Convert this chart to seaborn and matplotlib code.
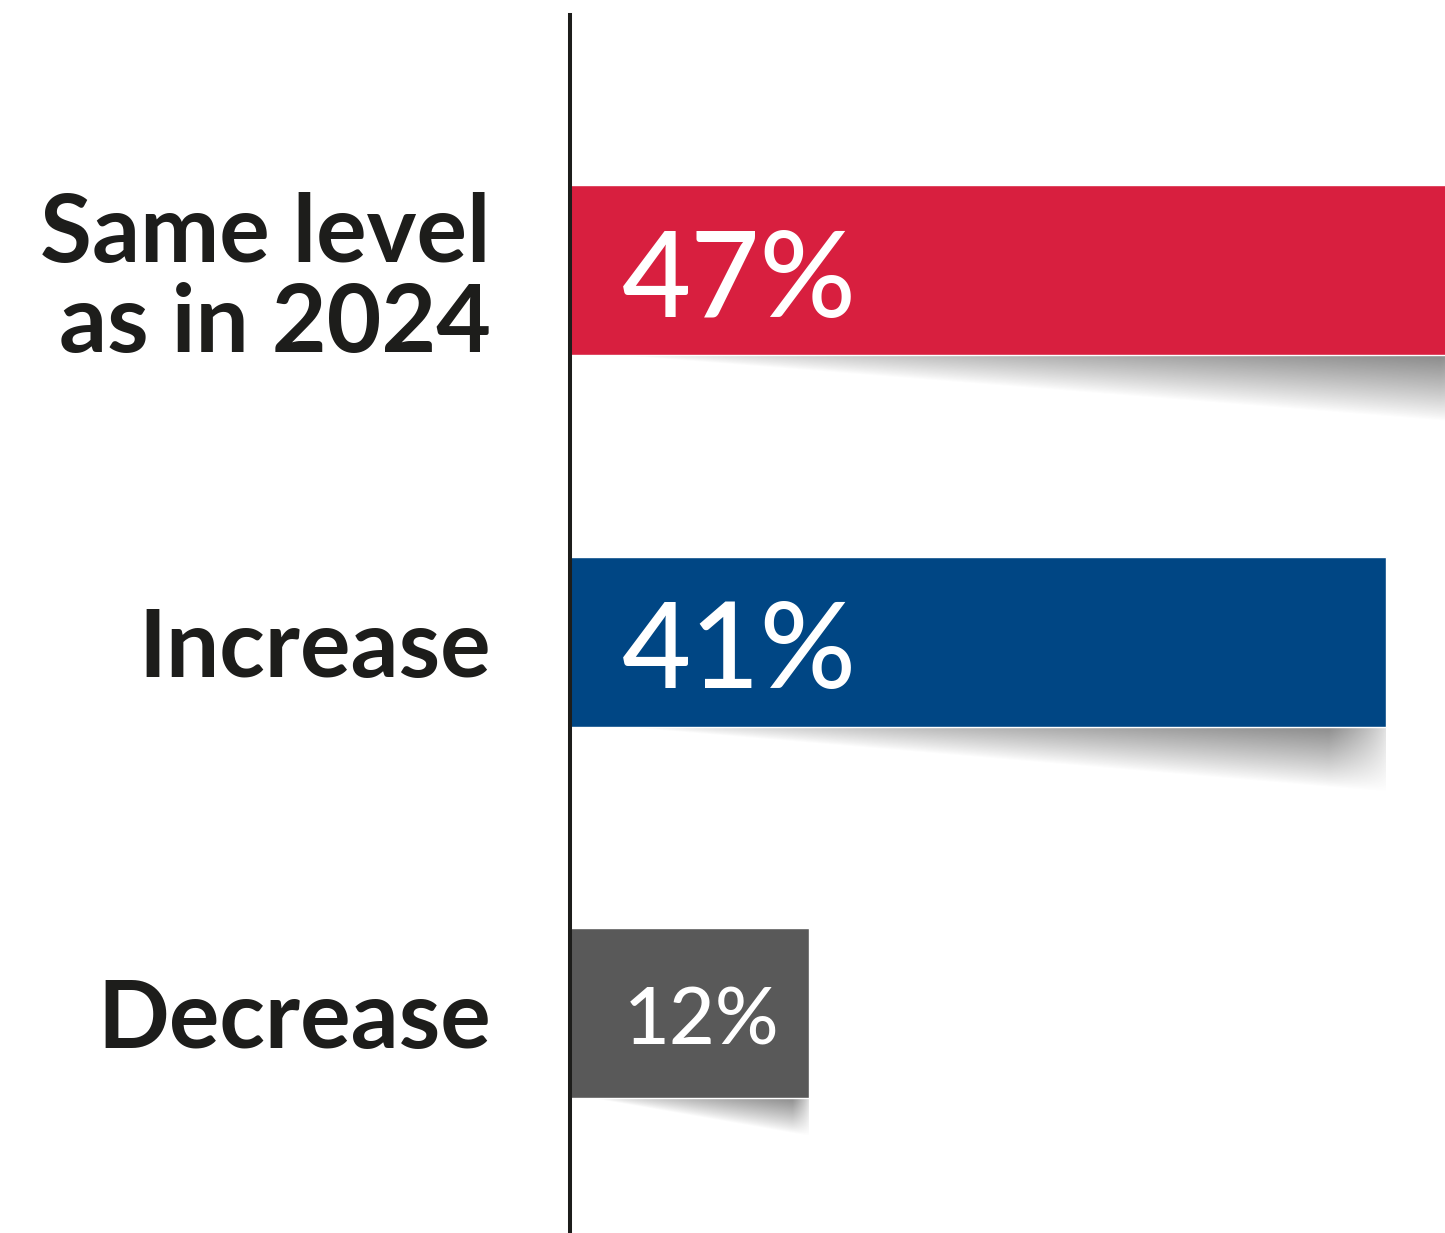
import numpy as np
import pandas as pd
import matplotlib
matplotlib.use("Agg")
import matplotlib.pyplot as plt
import seaborn as sns

categories = ["Same level\nas in 2024", "Increase", "Decrease"]
values = [47, 41, 12]
value_labels = ["47%", "41%", "12%"]
colors = ["#D81F3F", "#004684", "#595959"]
label_sizes = [86, 86, 57]

sns.set_theme(style="white")
plt.rcParams['font.family'] = ['Lato', 'DejaVu Sans']

df = pd.DataFrame({"cat": categories, "val": values})

fig = plt.figure(figsize=(14.45, 12.33), dpi=100)
ax = fig.add_axes([570/1445, 0, 875/1445, 1 - 15/1233])

bw = 170/371.5
sns.barplot(data=df, x="val", y="cat", hue="cat", palette=colors, orient="h",
            width=bw, dodge=False, legend=False, ax=ax, saturation=1, zorder=3)

# soft wedge shadows under bars
patches = sorted(ax.patches, key=lambda p: p.get_y())
nx, ny = 500, 120
for p in patches:
    x0 = p.get_x()
    x1 = p.get_x() + p.get_width()
    yb = p.get_y() + p.get_height()
    depth = 0.07 + 0.0026 * p.get_width()
    u = np.linspace(0, 1, nx)[None, :]
    t = np.linspace(0, 1, ny)[:, None]
    d = np.clip((u - 0.02) / 0.98, 1e-4, 1)
    inside = np.clip(1 - t / d, 0, 1)
    horiz = np.clip(u, 0, 1) ** 0.6
    rightfade = np.clip((1 - u) / 0.07, 0, 1) ** 0.8
    alpha = 0.85 * inside ** 0.9 * horiz * (0.25 + 0.75 * rightfade)
    img = np.zeros((ny, nx, 4))
    img[..., :3] = 0.42
    img[..., 3] = np.clip(alpha, 0, 1)
    ax.imshow(img, extent=(x0 + 0.3, x1, yb + depth, yb - 0.004), origin="upper",
              aspect="auto", zorder=1, interpolation="bilinear")

for p, lab, fs in zip(patches, value_labels, label_sizes):
    yc = p.get_y() + p.get_height() / 2
    ax.annotate(lab, xy=(0, yc), xytext=(37 if fs > 60 else 39, -2),
                textcoords="offset points", ha="left", va="center_baseline",
                color="white", fontsize=fs, fontweight="medium", zorder=5)

ax.set_xlim(0, 875/19.9)
shift = 5/371.5
ax.set_ylim(2 + (1233 - 1018)/371.5 + shift, -(275 - 15)/371.5 + shift)
ax.set_xlabel("")
ax.set_ylabel("")
ax.set_xticks([])
ax.tick_params(axis="y", length=0, pad=57)
for lbl in ax.get_yticklabels():
    lbl.set_fontsize(68)
    lbl.set_fontweight("bold")
    lbl.set_color("#1d1d1b")
    lbl.set_linespacing(1.06)

for s in ["top", "right", "bottom"]:
    ax.spines[s].set_visible(False)
ax.spines["left"].set_color("#1d1d1b")
ax.spines["left"].set_linewidth(2.9)
ax.spines["left"].set_zorder(6)

fig.savefig("out.png", dpi=100)
